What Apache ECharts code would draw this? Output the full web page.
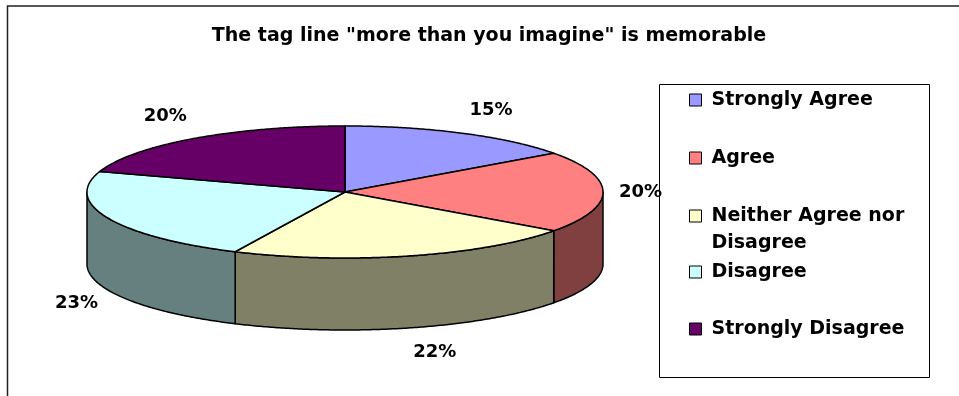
<!DOCTYPE html>
<html>
<head>
<meta charset="utf-8">
<script src="https://cdn.jsdelivr.net/npm/echarts@6/dist/echarts.min.js"></script>
<style>
  html, body { margin: 0; padding: 0; background: #fff; }
  #chart { width: 959px; height: 396px; }
</style>
</head>
<body>
<div id="chart"></div>
<script>
// Survey responses
const chartTitle = 'The tag line "more than you imagine" is memorable';
const categories = ['Strongly Agree', 'Agree', 'Neither Agree nor Disagree', 'Disagree', 'Strongly Disagree'];
const values = [15, 20, 22, 23, 20];

// Palette: top faces and the darker front walls
const topColors = ['#9999FF', '#FF8080', '#FFFFCC', '#CCFFFF', '#660066'];
const sideColors = ['#4D4D80', '#804040', '#808066', '#668080', '#330033'];

// Layout of the tilted pie (pixels)
const PIE = { cx: 345, cy: 192, rx: 258, ry: 66, depth: 72 };
const FONT = 'DejaVu Sans';
const legendRowY = [100, 158, 216, 272, 329];

const total = values.reduce((a, b) => a + b, 0);
const starts = [];
values.reduce((acc, v) => { starts.push(acc); return acc + v; }, 0);

// Point on the top ellipse; angle in degrees clockwise from 12 o'clock
function ellipsePoint(deg, dy) {
  const r = deg * Math.PI / 180;
  return [PIE.cx + PIE.rx * Math.sin(r), PIE.cy - PIE.ry * Math.cos(r) + (dy || 0)];
}
function arcPoints(a1, a2, dy) {
  const n = Math.max(2, Math.ceil(Math.abs(a2 - a1) * 2));
  const pts = [];
  for (let k = 0; k <= n; k++) pts.push(ellipsePoint(a1 + (a2 - a1) * k / n, dy));
  return pts;
}

function renderSlice(params, api) {
  const i = params.seriesIndex;
  const v = api.value(0);
  const a1 = starts[i] / total * 360;
  const a2 = (starts[i] + v) / total * 360;
  const children = [];

  // visible front wall (lower half of the rim)
  const s = Math.max(a1, 90), e = Math.min(a2, 270);
  if (e > s) {
    children.push({
      type: 'polygon',
      z2: 1,
      shape: { points: arcPoints(s, e, 0).concat(arcPoints(e, s, PIE.depth)) },
      style: { fill: sideColors[i], stroke: '#000', lineWidth: 1.5, lineJoin: 'round' }
    });
  }

  // top face
  children.push({
    type: 'polygon',
    z2: 5,
    shape: { points: [[PIE.cx, PIE.cy]].concat(arcPoints(a1, a2, 0)) },
    style: { fill: topColors[i], stroke: '#000', lineWidth: 1.5, lineJoin: 'round' }
  });

  // percentage label outside the slice
  const mid = (a1 + a2) / 2 * Math.PI / 180;
  const sn = Math.sin(mid), cs = Math.cos(mid);
  const offX = sn < 0 ? 11 : 16, offY = 16;
  const lx = PIE.cx + (PIE.rx + offX) * sn;
  const ly = PIE.cy - (PIE.ry + offY) * cs + (cs < -0.1 ? PIE.depth - 4 * (1 + cs) : 0);
  children.push({
    type: 'text',
    z2: 10,
    x: lx,
    y: ly,
    style: {
      text: Math.round(v / total * 100) + '%',
      fontFamily: FONT,
      fontWeight: 'bold',
      fontSize: 18,
      fill: '#000',
      align: sn > 0.1 ? 'left' : (sn < -0.1 ? 'right' : 'center'),
      verticalAlign: cs > 0.1 ? 'bottom' : (cs < -0.1 ? 'top' : 'middle')
    }
  });

  return { type: 'group', children };
}

// Long legend names wrap onto a second line; a leading blank line keeps
// the swatch level with the first line of text.
function wrapName(name) {
  if (name.length <= 20) return name;
  const cut = name.lastIndexOf(' ', 18);
  return '\u00a0\n' + name.slice(0, cut) + '\n' + name.slice(cut + 1);
}

const chart = echarts.init(document.getElementById('chart'), null, { renderer: 'canvas' });

chart.setOption({
  backgroundColor: '#fff',
  animation: false,
  title: {
    text: chartTitle,
    left: 489,
    top: 27,
    textAlign: 'center',
    padding: 0,
    textStyle: { fontFamily: FONT, fontWeight: 'bold', fontSize: 19, color: '#000' }
  },
  legend: categories.map((name, i) => {
    const wrapped = wrapName(name) !== name;
    const lh = wrapped ? 27 : 22;
    return {
      data: [name],
      left: 689,
      top: wrapped ? legendRowY[i] - 40.5 : legendRowY[i] - lh / 2,
      padding: 0,
      itemGap: 0,
      itemWidth: 12,
      itemHeight: 12,
      icon: 'rect',
      itemStyle: { borderColor: '#000', borderWidth: 1 },
      formatter: wrapName,
      textStyle: {
        fontFamily: FONT,
        fontWeight: 'bold',
        fontSize: 19,
        color: '#000',
        lineHeight: lh,
        padding: [0, 0, 0, 5]
      }
    };
  }),
  graphic: [
    {
      type: 'polyline',
      shape: { points: [[7.5, 396], [7.5, 6], [959, 6]] },
      style: { stroke: '#222', lineWidth: 1.5, fill: null }
    },
    {
      type: 'rect',
      shape: { x: 659.5, y: 84.5, width: 270, height: 293 },
      style: { stroke: '#000', lineWidth: 1, fill: null }
    }
  ],
  series: categories.map((name, i) => ({
    type: 'custom',
    name: name,
    coordinateSystem: 'none',
    itemStyle: { color: topColors[i] },
    data: [[values[i]]],
    renderItem: renderSlice
  }))
});
</script>
</body>
</html>
